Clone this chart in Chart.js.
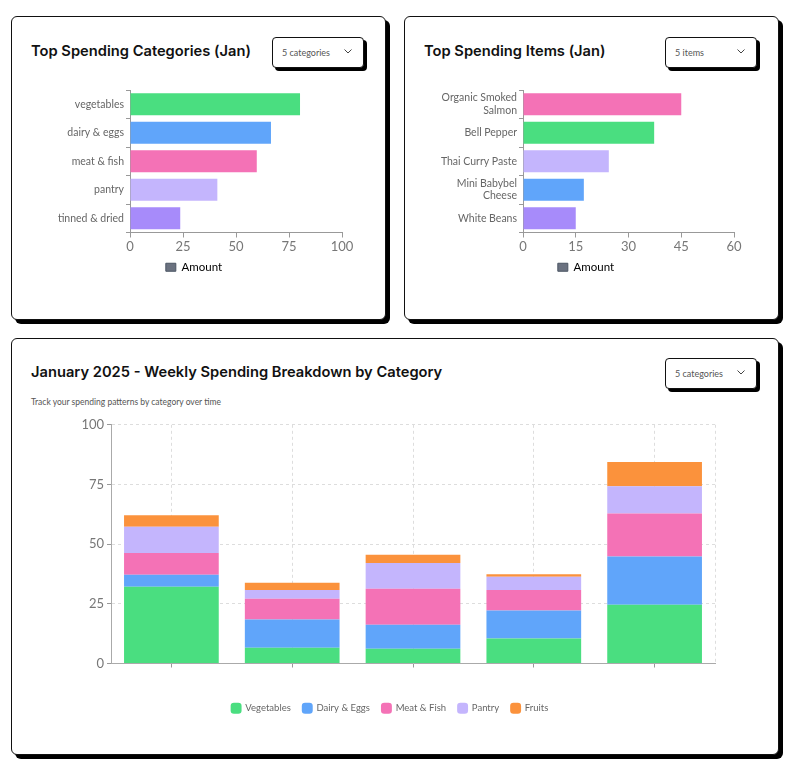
<!DOCTYPE html>
<html><head><meta charset="utf-8">
<script src="https://cdn.jsdelivr.net/npm/chart.js@4.4.1/dist/chart.umd.min.js"></script>
<style>
html,body{margin:0;padding:0;background:#fff;}
body{width:796px;height:768px;position:relative;overflow:hidden;font-family:Inter, sans-serif;}
.card{position:absolute;border:1.5px solid #111;border-radius:6px;box-shadow:4px 4px 0 #000;background:#fff;box-sizing:border-box;}
.title{position:absolute;font-weight:600;font-size:14.7px;color:#111;white-space:nowrap;line-height:18px;}
.sub{position:absolute;font-family:Lato, sans-serif;font-size:8.5px;color:#555;white-space:nowrap;}
.dd{position:absolute;width:92px;height:31px;border:1.5px solid #111;border-radius:4px;box-shadow:3px 3px 0 #000;box-sizing:border-box;background:#fff;font-family:Lato, sans-serif;font-size:9px;color:#555;}
.dd span{position:absolute;left:9px;top:9px;}
.dd svg{position:absolute;right:11px;top:11px;}
.wrap{position:absolute;}
</style></head>
<body>
<div class="card" style="left:11px;top:16px;width:375px;height:304px;"></div>
<div class="card" style="left:404px;top:16px;width:375px;height:304px;"></div>
<div class="card" style="left:11px;top:338px;width:768px;height:417px;"></div>

<div class="title" style="left:31px;top:42px;">Top Spending Categories (Jan)</div>
<div class="title" style="left:424px;top:42px;">Top Spending Items (Jan)</div>
<div class="title" style="left:31px;top:363px;">January 2025 - Weekly Spending Breakdown by Category</div>
<div class="sub" style="left:31px;top:397px;">Track your spending patterns by category over time</div>

<div class="dd" style="left:272px;top:37px;"><span>5 categories</span><svg width="8" height="5" viewBox="0 0 8 5"><polyline points="0.5,0.5 4,4 7.5,0.5" fill="none" stroke="#444" stroke-width="1"/></svg></div>
<div class="dd" style="left:665px;top:37px;"><span>5 items</span><svg width="8" height="5" viewBox="0 0 8 5"><polyline points="0.5,0.5 4,4 7.5,0.5" fill="none" stroke="#444" stroke-width="1"/></svg></div>
<div class="dd" style="left:665px;top:358px;"><span>5 categories</span><svg width="8" height="5" viewBox="0 0 8 5"><polyline points="0.5,0.5 4,4 7.5,0.5" fill="none" stroke="#444" stroke-width="1"/></svg></div>

<div class="wrap" style="left:20px;top:80px;width:348px;height:210px;"><canvas id="c1"></canvas></div>
<div class="wrap" style="left:413px;top:80px;width:346px;height:210px;"><canvas id="c2"></canvas></div>
<div class="wrap" style="left:31px;top:414px;width:718px;height:316px;"><canvas id="c3"></canvas></div>

<script>
// ---- data ----
const categoryLabels = ['vegetables', 'dairy & eggs', 'meat & fish', 'pantry', 'tinned & dried'];
const categoryAmounts = [80.2, 66.5, 59.8, 41.2, 23.7];
const categoryColors = ['#4ade80', '#60a5fa', '#f472b6', '#c4b5fd', '#a78bfa'];
const categoryTicks = [0, 25, 50, 75, 100];

const itemLabels = [['Organic Smoked', 'Salmon'], 'Bell Pepper', 'Thai Curry Paste', ['Mini Babybel', 'Cheese'], 'White Beans'];
const itemAmounts = [45.0, 37.3, 24.4, 17.3, 15.0];
const itemColors = ['#f472b6', '#4ade80', '#c4b5fd', '#60a5fa', '#a78bfa'];
const itemTicks = [0, 15, 30, 45, 60];

const weekLabels = ['Week 1', 'Week 2', 'Week 3', 'Week 4', 'Week 5'];
const vegetables = [32.2, 6.6, 6.2, 10.5, 24.6];
const dairyEggs = [5.0, 11.8, 10.0, 11.7, 20.2];
const meatFish = [9.1, 8.7, 15.1, 8.6, 18.0];
const pantry = [11.0, 3.7, 10.8, 5.5, 11.5];
const fruits = [4.8, 3.0, 3.5, 1.1, 10.1];
const weeklyTicks = [0, 25, 50, 75, 100];

const FONT = 'Lato, sans-serif';
Chart.defaults.font.family = FONT;
Chart.defaults.color = '#666';
Chart.defaults.animation = false;

function amountLegend() {
  return {
    position: 'bottom',
    labels: {
      boxWidth: 10, boxHeight: 8, padding: 10,
      font: { size: 11.5, family: FONT }, color: '#666',
      generateLabels: () => [{ text: 'Amount', fillStyle: '#6b7280', strokeStyle: '#4b5563', lineWidth: 1, hidden: false, datasetIndex: 0 }]
    }
  };
}

function hbar(id, labels, values, colors, ticks, yWidth, pad) {
  new Chart(document.getElementById(id), {
    type: 'bar',
    data: { labels, datasets: [{ label: 'Amount', data: values, backgroundColor: colors, borderWidth: 0, barPercentage: 0.96 }] },
    options: {
      indexAxis: 'y', responsive: true, maintainAspectRatio: false,
      layout: { padding: { top: 10, right: pad, left: pad, bottom: 7 } },
      plugins: { legend: amountLegend(), tooltip: { enabled: false } },
      scales: {
        x: {
          min: ticks[0], max: ticks[ticks.length - 1],
          afterBuildTicks: s => { s.ticks = ticks.map(v => ({ value: v })); },
          grid: { drawOnChartArea: false, tickLength: 5, color: '#999' },
          border: { color: '#999' },
          ticks: { font: { size: 13, family: FONT }, color: '#777', padding: 2 },
          afterFit: s => { s.height = 19; }
        },
        y: {
          grid: { drawOnChartArea: false, tickLength: 4, color: '#999' },
          border: { color: '#999' },
          ticks: { font: { size: 10.5, family: FONT }, color: '#666', padding: 2 },
          afterFit: s => { s.width = yWidth; }
        }
      }
    }
  });
}

hbar('c1', categoryLabels, categoryAmounts, categoryColors, categoryTicks, 84, 26);
hbar('c2', itemLabels, itemAmounts, itemColors, itemTicks, 85, 25);

const rightEdge = {
  id: 'rightEdge',
  beforeDatasetsDraw(chart) {
    const { ctx, chartArea } = chart;
    ctx.save();
    ctx.strokeStyle = '#ddd'; ctx.lineWidth = 1; ctx.setLineDash([3, 3]);
    ctx.beginPath();
    ctx.moveTo(chartArea.right + 0.5, chartArea.top);
    ctx.lineTo(chartArea.right + 0.5, chartArea.bottom);
    ctx.stroke();
    ctx.restore();
  }
};

new Chart(document.getElementById('c3'), {
  type: 'bar',
  data: {
    labels: weekLabels,
    datasets: [
      { label: 'Vegetables', data: vegetables, backgroundColor: '#4ade80' },
      { label: 'Dairy & Eggs', data: dairyEggs, backgroundColor: '#60a5fa' },
      { label: 'Meat & Fish', data: meatFish, backgroundColor: '#f472b6' },
      { label: 'Pantry', data: pantry, backgroundColor: '#c4b5fd' },
      { label: 'Fruits', data: fruits, backgroundColor: '#fb923c' }
    ]
  },
  plugins: [rightEdge],
  options: {
    responsive: true, maintainAspectRatio: false,
    datasets: { bar: { barPercentage: 0.98, categoryPercentage: 0.8 } },
    layout: { padding: { top: 10, right: 34, left: 34, bottom: 7 } },
    plugins: {
      legend: {
        position: 'bottom',
        labels: { usePointStyle: true, pointStyle: 'rectRounded', boxWidth: 9, boxHeight: 9, padding: 12, font: { size: 9.5, family: FONT }, color: '#666' }
      },
      tooltip: { enabled: false }
    },
    scales: {
      x: {
        stacked: true,
        grid: { offset: false, color: '#ddd', tickColor: '#999', tickLength: 4 },
        border: { color: '#aaa', dash: [3, 3] },
        ticks: { display: false },
        afterFit: s => { s.height = 28; }
      },
      y: {
        stacked: true, min: weeklyTicks[0], max: weeklyTicks[weeklyTicks.length - 1],
        afterBuildTicks: s => { s.ticks = weeklyTicks.map(v => ({ value: v })); },
        grid: { color: '#ddd', tickColor: '#999', tickLength: 4 },
        border: { color: '#aaa', dash: [3, 3] },
        ticks: { font: { size: 13, family: FONT }, color: '#777', padding: 3 },
        afterFit: s => { s.width = 46; }
      }
    }
  }
});
</script>
</body></html>
